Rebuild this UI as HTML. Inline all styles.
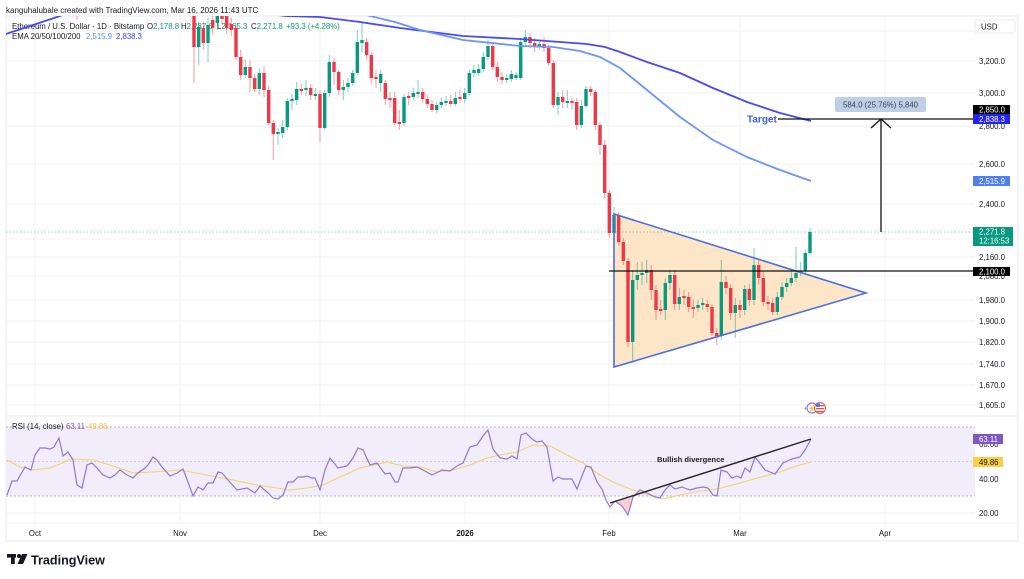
<!DOCTYPE html>
<html><head><meta charset="utf-8"><style>
html,body{margin:0;padding:0;background:#fff;}
body{width:1024px;height:579px;overflow:hidden;}
svg{display:block;font-family:"Liberation Sans",Arial,sans-serif;}
.g{fill:#089981}.r{fill:#f23645}
.gw{stroke:#089981;stroke-opacity:.5;stroke-width:1}
.rw{stroke:#f23645;stroke-opacity:.5;stroke-width:1}
.grid{stroke:#f0f2f7;stroke-width:1}
.ax{font-size:7.8px;fill:#131722}
</style></head><body>
<svg width="1024" height="579" viewBox="0 0 1024 579" xmlns="http://www.w3.org/2000/svg">
<defs>
<clipPath id="mp"><rect x="6" y="16" width="969" height="400"/></clipPath>
<clipPath id="rp"><rect x="6" y="416" width="969" height="107"/></clipPath>
</defs>
<rect width="1024" height="579" fill="#fff"/>
<text x="6" y="13" font-size="8px" fill="#131722">kanguhalubale created with TradingView.com, Mar 16, 2026 11:43 UTC</text>
<!-- frame -->
<rect x="6" y="16" width="1012" height="525" fill="none" stroke="#e6e9f0" stroke-width="1"/>
<line x1="6" y1="416" x2="1018" y2="416" stroke="#e6e9f0"/>
<!-- vertical grid -->
<g class="grid">
<line x1="35" y1="16" x2="35" y2="523"/><line x1="180" y1="16" x2="180" y2="523"/><line x1="320" y1="16" x2="320" y2="523"/><line x1="465" y1="16" x2="465" y2="523"/><line x1="609" y1="16" x2="609" y2="523"/><line x1="740" y1="16" x2="740" y2="523"/><line x1="885" y1="16" x2="885" y2="523"/>
<line x1="6" y1="31" x2="975" y2="31"/><line x1="6" y1="61" x2="975" y2="61"/><line x1="6" y1="93" x2="975" y2="93"/><line x1="6" y1="126" x2="975" y2="126"/><line x1="6" y1="164" x2="975" y2="164"/><line x1="6" y1="204" x2="975" y2="204"/><line x1="6" y1="239" x2="975" y2="239"/><line x1="6" y1="257" x2="975" y2="257"/><line x1="6" y1="276" x2="975" y2="276"/><line x1="6" y1="300" x2="975" y2="300"/><line x1="6" y1="321" x2="975" y2="321"/><line x1="6" y1="342" x2="975" y2="342"/><line x1="6" y1="364" x2="975" y2="364"/><line x1="6" y1="385" x2="975" y2="385"/><line x1="6" y1="405" x2="975" y2="405"/>
<line x1="6" y1="444" x2="975" y2="444"/><line x1="6" y1="478" x2="975" y2="478"/><line x1="6" y1="513" x2="975" y2="513"/>
</g>
<line x1="6" y1="523" x2="1018" y2="523" stroke="#f0f2f7"/>

<!-- legend -->
<text y="29" font-size="7.8px" fill="#131722"><tspan x="12">Ethereum / U.S. Dollar · 1D · Bitstamp</tspan><tspan x="147">O</tspan><tspan fill="#089981">2,178.8</tspan><tspan x="181">H</tspan><tspan fill="#089981">2,287.6</tspan><tspan x="217">L</tspan><tspan fill="#089981">2,165.3</tspan><tspan x="251">C</tspan><tspan fill="#089981">2,271.8</tspan><tspan x="286" fill="#089981">+93.3 (+4.28%)</tspan></text>
<text y="39" font-size="7.8px" fill="#131722"><tspan x="12">EMA 20/50/100/200</tspan><tspan x="86" fill="#5b8ff9">2,515.9</tspan><tspan x="116" fill="#3c3cf0">2,838.3</tspan></text>

<!-- triangle fill -->
<polygon points="614,214 614,367 866,293" fill="#fde5c8"/>

<g clip-path="url(#mp)">
<line x1="6" y1="232" x2="975" y2="232" stroke="#089981" stroke-opacity=".45" stroke-dasharray="1.5,2"/>
<line x1="77" y1="16" x2="77" y2="20" class="rw"/>
<g>
<line class="rw" x1="194" y1="16" x2="194" y2="83"/><line class="gw" x1="198.7" y1="22" x2="198.7" y2="65"/><line class="rw" x1="203.3" y1="22" x2="203.3" y2="50"/><line class="gw" x1="208" y1="18" x2="208" y2="62"/><line class="rw" x1="212.7" y1="16" x2="212.7" y2="35"/><line class="gw" x1="217.3" y1="16" x2="217.3" y2="30"/><line class="rw" x1="222" y1="12" x2="222" y2="24"/><line class="rw" x1="226.7" y1="12" x2="226.7" y2="34"/><line class="rw" x1="231.3" y1="18" x2="231.3" y2="36"/><line class="rw" x1="236" y1="24" x2="236" y2="60"/><line class="rw" x1="240.7" y1="50" x2="240.7" y2="80"/><line class="gw" x1="245.3" y1="60" x2="245.3" y2="78"/><line class="rw" x1="250" y1="60" x2="250" y2="92"/><line class="rw" x1="254.7" y1="74" x2="254.7" y2="92"/><line class="gw" x1="259.3" y1="68" x2="259.3" y2="95"/><line class="rw" x1="264" y1="66" x2="264" y2="97"/><line class="rw" x1="268.7" y1="86" x2="268.7" y2="125"/><line class="rw" x1="273.3" y1="120" x2="273.3" y2="160"/><line class="gw" x1="278" y1="128" x2="278" y2="145"/><line class="gw" x1="282.7" y1="120" x2="282.7" y2="138"/><line class="gw" x1="287.3" y1="98" x2="287.3" y2="130"/><line class="gw" x1="292" y1="94" x2="292" y2="110"/><line class="gw" x1="296.7" y1="82" x2="296.7" y2="105"/><line class="rw" x1="301.3" y1="84" x2="301.3" y2="95"/><line class="gw" x1="306" y1="80" x2="306" y2="96"/><line class="rw" x1="310.7" y1="84" x2="310.7" y2="100"/><line class="gw" x1="315.3" y1="88" x2="315.3" y2="100"/><line class="rw" x1="320" y1="90" x2="320" y2="142"/><line class="gw" x1="324.7" y1="90" x2="324.7" y2="130"/><line class="gw" x1="329.3" y1="55" x2="329.3" y2="97"/><line class="rw" x1="334" y1="58" x2="334" y2="85"/><line class="rw" x1="338.7" y1="70" x2="338.7" y2="95"/><line class="gw" x1="343.3" y1="80" x2="343.3" y2="100"/><line class="gw" x1="348" y1="78" x2="348" y2="92"/><line class="gw" x1="352.7" y1="70" x2="352.7" y2="86"/><line class="gw" x1="357.3" y1="30" x2="357.3" y2="75"/><line class="gw" x1="362" y1="23" x2="362" y2="52"/><line class="rw" x1="366.7" y1="38" x2="366.7" y2="60"/><line class="rw" x1="371.3" y1="52" x2="371.3" y2="84"/><line class="rw" x1="376" y1="70" x2="376" y2="88"/><line class="gw" x1="380.7" y1="70" x2="380.7" y2="92"/><line class="rw" x1="385.3" y1="80" x2="385.3" y2="105"/><line class="rw" x1="390" y1="92" x2="390" y2="108"/><line class="rw" x1="394.7" y1="92" x2="394.7" y2="125"/><line class="rw" x1="399.3" y1="110" x2="399.3" y2="130"/><line class="gw" x1="404" y1="94" x2="404" y2="126"/><line class="rw" x1="408.7" y1="92" x2="408.7" y2="105"/><line class="gw" x1="413.3" y1="88" x2="413.3" y2="100"/><line class="gw" x1="418" y1="80" x2="418" y2="98"/><line class="rw" x1="422.7" y1="88" x2="422.7" y2="103"/><line class="rw" x1="427.3" y1="95" x2="427.3" y2="108"/><line class="rw" x1="432" y1="100" x2="432" y2="112"/><line class="gw" x1="436.7" y1="102" x2="436.7" y2="113"/><line class="gw" x1="441.3" y1="98" x2="441.3" y2="108"/><line class="gw" x1="446" y1="96" x2="446" y2="106"/><line class="rw" x1="450.7" y1="95" x2="450.7" y2="107"/><line class="gw" x1="455.3" y1="92" x2="455.3" y2="106"/><line class="rw" x1="460" y1="90" x2="460" y2="103"/><line class="gw" x1="464.7" y1="88" x2="464.7" y2="103"/><line class="gw" x1="469.3" y1="70" x2="469.3" y2="95"/><line class="gw" x1="474" y1="65" x2="474" y2="77"/><line class="gw" x1="478.7" y1="64" x2="478.7" y2="76"/><line class="gw" x1="483.3" y1="52" x2="483.3" y2="72"/><line class="gw" x1="488" y1="40" x2="488" y2="60"/><line class="rw" x1="492.7" y1="44" x2="492.7" y2="70"/><line class="rw" x1="497.3" y1="62" x2="497.3" y2="82"/><line class="rw" x1="502" y1="72" x2="502" y2="84"/><line class="gw" x1="506.7" y1="74" x2="506.7" y2="83"/><line class="gw" x1="511.3" y1="70" x2="511.3" y2="82"/><line class="gw" x1="516" y1="72" x2="516" y2="80"/><line class="gw" x1="520.7" y1="38" x2="520.7" y2="80"/><line class="gw" x1="525.3" y1="30" x2="525.3" y2="47"/><line class="rw" x1="530" y1="33" x2="530" y2="48"/><line class="rw" x1="534.7" y1="38" x2="534.7" y2="52"/><line class="gw" x1="539.3" y1="40" x2="539.3" y2="50"/><line class="rw" x1="544" y1="37" x2="544" y2="52"/><line class="rw" x1="548.7" y1="45" x2="548.7" y2="66"/><line class="rw" x1="553.3" y1="60" x2="553.3" y2="108"/><line class="gw" x1="558" y1="92" x2="558" y2="115"/><line class="rw" x1="562.7" y1="90" x2="562.7" y2="108"/><line class="gw" x1="567.3" y1="90" x2="567.3" y2="108"/><line class="rw" x1="572" y1="98" x2="572" y2="110"/><line class="rw" x1="576.7" y1="98" x2="576.7" y2="130"/><line class="gw" x1="581.3" y1="100" x2="581.3" y2="128"/><line class="gw" x1="586" y1="86" x2="586" y2="108"/><line class="rw" x1="590.7" y1="86" x2="590.7" y2="96"/><line class="rw" x1="595.3" y1="90" x2="595.3" y2="130"/><line class="rw" x1="600" y1="122" x2="600" y2="155"/><line class="rw" x1="604.7" y1="140" x2="604.7" y2="198"/><line class="rw" x1="609.3" y1="190" x2="609.3" y2="238"/><line class="gw" x1="614" y1="207" x2="614" y2="236"/><line class="rw" x1="618.7" y1="212" x2="618.7" y2="246"/><line class="rw" x1="623.3" y1="238" x2="623.3" y2="265"/><line class="rw" x1="628" y1="258" x2="628" y2="347"/><line class="gw" x1="632.7" y1="270" x2="632.7" y2="363"/><line class="gw" x1="637.3" y1="262" x2="637.3" y2="290"/><line class="gw" x1="642" y1="262" x2="642" y2="285"/><line class="gw" x1="646.7" y1="260" x2="646.7" y2="283"/><line class="rw" x1="651.3" y1="265" x2="651.3" y2="300"/><line class="rw" x1="656" y1="285" x2="656" y2="320"/><line class="rw" x1="660.7" y1="300" x2="660.7" y2="315"/><line class="gw" x1="665.3" y1="278" x2="665.3" y2="320"/><line class="gw" x1="670" y1="270" x2="670" y2="290"/><line class="rw" x1="674.7" y1="270" x2="674.7" y2="310"/><line class="gw" x1="679.3" y1="288" x2="679.3" y2="310"/><line class="rw" x1="684" y1="290" x2="684" y2="305"/><line class="rw" x1="688.7" y1="292" x2="688.7" y2="312"/><line class="rw" x1="693.3" y1="300" x2="693.3" y2="318"/><line class="gw" x1="698" y1="300" x2="698" y2="312"/><line class="gw" x1="702.7" y1="298" x2="702.7" y2="310"/><line class="rw" x1="707.3" y1="300" x2="707.3" y2="312"/><line class="rw" x1="712" y1="304" x2="712" y2="336"/><line class="rw" x1="716.7" y1="328" x2="716.7" y2="345"/><line class="gw" x1="721.3" y1="260" x2="721.3" y2="340"/><line class="rw" x1="726" y1="276" x2="726" y2="294"/><line class="rw" x1="730.7" y1="284" x2="730.7" y2="320"/><line class="gw" x1="735.3" y1="298" x2="735.3" y2="338"/><line class="rw" x1="740" y1="300" x2="740" y2="318"/><line class="gw" x1="744.7" y1="285" x2="744.7" y2="315"/><line class="rw" x1="749.3" y1="284" x2="749.3" y2="306"/><line class="gw" x1="754" y1="248" x2="754" y2="305"/><line class="rw" x1="758.7" y1="260" x2="758.7" y2="285"/><line class="rw" x1="763.3" y1="272" x2="763.3" y2="306"/><line class="rw" x1="768" y1="296" x2="768" y2="310"/><line class="rw" x1="772.7" y1="298" x2="772.7" y2="315"/><line class="gw" x1="777.3" y1="292" x2="777.3" y2="315"/><line class="gw" x1="782" y1="282" x2="782" y2="300"/><line class="gw" x1="786.7" y1="278" x2="786.7" y2="292"/><line class="gw" x1="791.3" y1="272" x2="791.3" y2="286"/><line class="gw" x1="796" y1="247" x2="796" y2="282"/><line class="gw" x1="800.7" y1="262" x2="800.7" y2="276"/><line class="gw" x1="805.3" y1="250" x2="805.3" y2="273"/><line class="gw" x1="810" y1="228" x2="810" y2="255"/>
</g>
<g>
<rect class="r" x="192.3" y="14" width="3.4" height="33"/><rect class="g" x="197" y="27" width="3.4" height="20"/><rect class="r" x="201.6" y="28" width="3.4" height="15"/><rect class="g" x="206.3" y="25" width="3.4" height="18"/><rect class="r" x="211" y="20" width="3.4" height="8"/><rect class="g" x="215.6" y="14" width="3.4" height="9"/><rect class="r" x="220.3" y="14" width="3.4" height="5"/><rect class="r" x="225" y="14" width="3.4" height="14"/><rect class="r" x="229.6" y="24" width="3.4" height="6"/><rect class="r" x="234.3" y="28" width="3.4" height="29"/><rect class="r" x="239" y="57" width="3.4" height="18"/><rect class="g" x="243.6" y="67" width="3.4" height="8"/><rect class="r" x="248.3" y="67" width="3.4" height="11"/><rect class="r" x="253" y="78" width="3.4" height="11"/><rect class="g" x="257.6" y="73" width="3.4" height="16"/><rect class="r" x="262.3" y="73" width="3.4" height="17"/><rect class="r" x="267" y="90" width="3.4" height="33"/><rect class="r" x="271.6" y="123" width="3.4" height="11"/><rect class="g" x="276.3" y="132" width="3.4" height="2"/><rect class="g" x="281" y="127" width="3.4" height="6"/><rect class="g" x="285.6" y="101" width="3.4" height="26"/><rect class="g" x="290.3" y="99" width="3.4" height="2"/><rect class="g" x="295" y="89" width="3.4" height="11"/><rect class="r" x="299.6" y="89" width="3.4" height="2"/><rect class="g" x="304.3" y="88" width="3.4" height="2"/><rect class="r" x="309" y="88" width="3.4" height="7"/><rect class="g" x="313.6" y="94" width="3.4" height="2"/><rect class="r" x="318.3" y="94" width="3.4" height="34"/><rect class="g" x="323" y="93" width="3.4" height="35"/><rect class="g" x="327.6" y="62" width="3.4" height="31"/><rect class="r" x="332.3" y="62" width="3.4" height="10"/><rect class="r" x="337" y="72" width="3.4" height="18"/><rect class="g" x="341.6" y="87" width="3.4" height="3"/><rect class="g" x="346.3" y="83" width="3.4" height="4"/><rect class="g" x="351" y="73" width="3.4" height="10"/><rect class="g" x="355.6" y="42" width="3.4" height="31"/><rect class="g" x="360.3" y="40" width="3.4" height="3"/><rect class="r" x="365" y="42" width="3.4" height="13"/><rect class="r" x="369.6" y="55" width="3.4" height="23"/><rect class="r" x="374.3" y="77" width="3.4" height="2"/><rect class="g" x="379" y="74" width="3.4" height="9"/><rect class="r" x="383.6" y="83" width="3.4" height="16"/><rect class="r" x="388.3" y="98" width="3.4" height="2"/><rect class="r" x="393" y="98" width="3.4" height="25"/><rect class="r" x="397.6" y="122" width="3.4" height="2"/><rect class="g" x="402.3" y="97" width="3.4" height="26"/><rect class="r" x="407" y="96" width="3.4" height="2"/><rect class="g" x="411.6" y="93" width="3.4" height="4"/><rect class="g" x="416.3" y="92" width="3.4" height="2"/><rect class="r" x="421" y="92" width="3.4" height="7"/><rect class="r" x="425.6" y="99" width="3.4" height="5"/><rect class="r" x="430.3" y="104" width="3.4" height="6"/><rect class="g" x="435" y="105" width="3.4" height="5"/><rect class="g" x="439.6" y="102" width="3.4" height="3"/><rect class="g" x="444.3" y="101" width="3.4" height="2"/><rect class="r" x="449" y="101" width="3.4" height="3"/><rect class="g" x="453.6" y="98" width="3.4" height="6"/><rect class="r" x="458.3" y="97" width="3.4" height="2"/><rect class="g" x="463" y="93" width="3.4" height="6"/><rect class="g" x="467.6" y="73" width="3.4" height="20"/><rect class="g" x="472.3" y="70" width="3.4" height="3"/><rect class="g" x="477" y="69" width="3.4" height="4"/><rect class="g" x="481.6" y="57" width="3.4" height="12"/><rect class="g" x="486.3" y="46" width="3.4" height="11"/><rect class="r" x="491" y="46" width="3.4" height="21"/><rect class="r" x="495.6" y="67" width="3.4" height="10"/><rect class="r" x="500.3" y="77" width="3.4" height="3"/><rect class="g" x="505" y="78" width="3.4" height="2"/><rect class="g" x="509.6" y="74" width="3.4" height="5"/><rect class="g" x="514.3" y="75" width="3.4" height="3"/><rect class="g" x="519" y="42" width="3.4" height="36"/><rect class="g" x="523.6" y="37" width="3.4" height="5"/><rect class="r" x="528.3" y="37" width="3.4" height="6"/><rect class="r" x="533" y="43" width="3.4" height="3"/><rect class="g" x="537.6" y="44" width="3.4" height="2"/><rect class="r" x="542.3" y="44" width="3.4" height="4"/><rect class="r" x="547" y="48" width="3.4" height="15"/><rect class="r" x="551.6" y="63" width="3.4" height="42"/><rect class="g" x="556.3" y="97" width="3.4" height="8"/><rect class="r" x="561" y="97" width="3.4" height="5"/><rect class="g" x="565.6" y="101" width="3.4" height="2"/><rect class="r" x="570.3" y="101" width="3.4" height="2"/><rect class="r" x="575" y="102" width="3.4" height="23"/><rect class="g" x="579.6" y="106" width="3.4" height="19"/><rect class="g" x="584.3" y="89" width="3.4" height="17"/><rect class="r" x="589" y="89" width="3.4" height="3"/><rect class="r" x="593.6" y="92" width="3.4" height="33"/><rect class="r" x="598.3" y="125" width="3.4" height="20"/><rect class="r" x="603" y="145" width="3.4" height="48"/><rect class="r" x="607.6" y="193" width="3.4" height="40"/><rect class="g" x="612.3" y="215" width="3.4" height="18"/><rect class="r" x="617" y="215" width="3.4" height="27"/><rect class="r" x="621.6" y="242" width="3.4" height="19"/><rect class="r" x="626.3" y="261" width="3.4" height="81"/><rect class="g" x="631" y="280" width="3.4" height="62"/><rect class="g" x="635.6" y="275" width="3.4" height="5"/><rect class="g" x="640.3" y="273" width="3.4" height="2"/><rect class="g" x="645" y="270" width="3.4" height="3"/><rect class="r" x="649.6" y="270" width="3.4" height="20"/><rect class="r" x="654.3" y="290" width="3.4" height="20"/><rect class="r" x="659" y="309" width="3.4" height="2"/><rect class="g" x="663.6" y="283" width="3.4" height="27"/><rect class="g" x="668.3" y="275" width="3.4" height="8"/><rect class="r" x="673" y="275" width="3.4" height="29"/><rect class="g" x="677.6" y="297" width="3.4" height="7"/><rect class="r" x="682.3" y="296" width="3.4" height="2"/><rect class="r" x="687" y="297" width="3.4" height="10"/><rect class="r" x="691.6" y="307" width="3.4" height="2"/><rect class="g" x="696.3" y="305" width="3.4" height="3"/><rect class="g" x="701" y="303" width="3.4" height="2"/><rect class="r" x="705.6" y="304" width="3.4" height="3"/><rect class="r" x="710.3" y="307" width="3.4" height="26"/><rect class="r" x="715" y="333" width="3.4" height="3"/><rect class="g" x="719.6" y="282" width="3.4" height="54"/><rect class="r" x="724.3" y="282" width="3.4" height="6"/><rect class="r" x="729" y="288" width="3.4" height="25"/><rect class="g" x="733.6" y="305" width="3.4" height="8"/><rect class="r" x="738.3" y="305" width="3.4" height="5"/><rect class="g" x="743" y="289" width="3.4" height="21"/><rect class="r" x="747.6" y="289" width="3.4" height="11"/><rect class="g" x="752.3" y="265" width="3.4" height="35"/><rect class="r" x="757" y="265" width="3.4" height="13"/><rect class="r" x="761.6" y="278" width="3.4" height="24"/><rect class="r" x="766.3" y="302" width="3.4" height="2"/><rect class="r" x="771" y="303" width="3.4" height="9"/><rect class="g" x="775.6" y="297" width="3.4" height="15"/><rect class="g" x="780.3" y="287" width="3.4" height="10"/><rect class="g" x="785" y="283" width="3.4" height="4"/><rect class="g" x="789.6" y="278" width="3.4" height="5"/><rect class="g" x="794.3" y="273" width="3.4" height="5"/><rect class="g" x="799" y="271" width="3.4" height="2"/><rect class="g" x="803.6" y="253" width="3.4" height="18"/><rect class="g" x="808.3" y="232" width="3.4" height="21"/>
</g>
<polyline fill="none" stroke="#4a4af0" stroke-width="1.8" points="6,34 30,26 60,16 70,12"/>
<polyline fill="none" stroke="#4a4af0" stroke-width="1.8" points="270,14 285,16 320,17 360,22 400,28 463,36 520,39 560,42 587,44 605,47 620,52 647,62 680,73 713,88 747,102 780,113 811,121"/>
<polyline fill="none" stroke="#6b95f7" stroke-width="1.8" points="355,12 370,16 395,22 420,30 463,40 520,46 553,47 580,51 600,57 620,68 647,90 680,117 713,140 747,157 780,170 811,181"/>
</g>

<polygon points="614,214 614,367 866,293" fill="none" stroke="#4a6fe0" stroke-width="1.6"/>
<line x1="609" y1="271" x2="975" y2="271" stroke="#111" stroke-width="1.3"/>
<line x1="778" y1="119" x2="975" y2="119" stroke="#111" stroke-width="1.3"/>
<text x="747" y="122.5" font-size="10px" font-weight="bold" fill="#3d5fd6">Target</text>
<line x1="881" y1="119.5" x2="881" y2="232" stroke="#111" stroke-width="1.3"/>
<polyline points="871,128 881,119 891,128" fill="none" stroke="#111" stroke-width="1.3"/>
<rect x="835" y="97" width="91" height="15" rx="2" fill="#bfcfe6"/>
<text x="880.5" y="107.3" font-size="7.8px" fill="#3a4656" text-anchor="middle">584.0 (25.76%) 5,840</text>

<circle cx="812" cy="408" r="5" fill="#fff" stroke="#a070e0" stroke-width="1.2"/>
<text x="812" y="410.8" font-size="7px" fill="#a070e0" text-anchor="middle">⚡</text>
<text x="805.5" y="410.5" font-size="7px" fill="#a070e0" text-anchor="middle">+</text>
<circle cx="820" cy="408" r="5.5" fill="#fff" stroke="#e25555" stroke-width="1"/>
<rect x="816" y="405" width="8" height="1.3" fill="#e25555"/><rect x="816" y="408" width="8" height="1.3" fill="#e25555"/><rect x="816" y="411" width="8" height="1.3" fill="#e25555"/>
<rect x="816" y="403.5" width="4" height="3.5" fill="#4a7fd8"/>

<!-- RSI pane -->
<rect x="6" y="427" width="969" height="69" fill="#f1edfa"/>
<g stroke="#a49bb8" stroke-dasharray="2,2" stroke-width="0.8">
<line x1="6" y1="427" x2="975" y2="427"/><line x1="6" y1="496" x2="975" y2="496"/>
</g>
<line x1="6" y1="461.5" x2="975" y2="461.5" stroke="#c9c0dd" stroke-dasharray="2,2" stroke-width="0.8"/>
<g clip-path="url(#rp)">
<polygon points="610,503 615,501 622,506 628,515 633,497 610,503" fill="#f6c4c4" fill-opacity=".8"/>
<polyline fill="none" stroke="#f5d36a" stroke-width="1.1" points="7,460 20,467 32,470 50,468 72,459 93,460 110,465 133,473 152,472 180,470 207,475 233,480 257,485 277,488 290,490 307,488 323,485 340,477 360,468 387,462 403,466 420,467 437,472 453,470 470,465 487,458 500,455 517,452 533,445 550,446 567,455 583,463 600,475 615,483 633,490 650,495 663,499 680,495 700,491 717,489 740,483 757,478 777,473 793,467 811,462"/>
<polyline fill="none" stroke="#9277d8" stroke-width="1.2" points="7,495 12,481 17,481 25,467 31,470 35,455 40,448 45,448 50,449 54,447 59,438 63,456 68,452 73,460 77,485 82,488 87,465 92,463 97,468 103,475 110,478 115,475 120,470 127,475 133,478 138,473 145,468 148,465 153,457 157,460 162,467 170,476 177,473 183,469 188,482 193,496 198,487 203,490 208,483 213,483 218,472 222,473 228,480 237,490 247,488 255,493 260,486 267,492 273,498 278,499 283,495 288,482 293,482 298,477 303,477 307,476 312,478 315,478 320,490 325,470 330,458 338,468 347,466 353,458 358,448 363,450 370,465 377,463 385,474 390,473 395,482 398,482 403,468 410,468 417,467 423,470 432,475 442,470 450,471 457,466 463,463 470,447 477,445 483,436 488,430 493,449 500,458 507,459 512,456 517,459 521,435 526,433 532,439 537,442 542,441 547,447 553,481 558,477 563,479 572,479 577,489 582,476 586,466 591,467 597,482 602,489 606,500 610,507 615,501 622,506 628,515 633,497 640,490 647,493 655,497 660,498 665,490 670,485 675,489 682,487 690,490 697,488 703,487 708,488 713,495 717,496 721,470 727,472 732,478 737,476 741,478 745,468 750,472 755,457 759,462 765,470 770,472 775,474 783,463 792,459 800,457 805,450 811,439"/>
</g>
<line x1="610" y1="503" x2="811" y2="439" stroke="#222" stroke-width="1.4"/>
<text x="657" y="462" font-size="7.6px" font-weight="bold" fill="#222">Bullish divergence</text>
<text y="429" font-size="7.8px" fill="#131722"><tspan x="12">RSI (14, close)</tspan><tspan x="66" fill="#7e57c2">63.11</tspan><tspan x="88" fill="#f0c43a">49.86</tspan></text>

<!-- price axis -->
<rect x="975" y="20" width="40" height="13" rx="2" fill="#fff" stroke="#e6e9f0"/>
<text class="ax" x="981" y="29.5">USD</text>
<g class="ax">
<text x="979" y="63.8">3,200.0</text>
<text x="979" y="95.8">3,000.0</text>
<text x="979" y="128.8">2,800.0</text>
<text x="979" y="166.8">2,600.0</text>
<text x="979" y="206.8">2,400.0</text>
<text x="979" y="259.8">2,160.0</text>
<text x="979" y="278.8">2,080.0</text>
<text x="979" y="302.8">1,980.0</text>
<text x="979" y="323.8">1,900.0</text>
<text x="979" y="344.8">1,820.0</text>
<text x="979" y="366.8">1,740.0</text>
<text x="979" y="387.8">1,670.0</text>
<text x="979" y="407.8">1,605.0</text>
<text x="979" y="446.8">60.00</text>
<text x="979" y="481.8">40.00</text>
<text x="979" y="515.8">20.00</text>
</g>
<rect x="973" y="105" width="37" height="9" fill="#000"/>
<text class="ax" x="979" y="112.3" style="fill:#fff">2,850.0</text>
<rect x="973" y="114" width="37" height="10" fill="#2424f2"/>
<text class="ax" x="979" y="121.8" style="fill:#fff">2,838.3</text>
<rect x="973" y="176" width="37" height="10" fill="#4f7ef6"/>
<text class="ax" x="979" y="183.8" style="fill:#fff">2,515.9</text>
<rect x="973" y="227" width="40" height="19" fill="#089981"/>
<text class="ax" x="979" y="234.6" style="fill:#fff">2,271.8</text>
<text class="ax" x="979" y="243.4" style="fill:#fff">12:16:53</text>
<rect x="973" y="267" width="37" height="9" fill="#000"/>
<text class="ax" x="979" y="274.3" style="fill:#fff">2,100.0</text>
<rect x="973" y="434" width="30" height="10" fill="#7e57c2"/>
<text class="ax" x="979" y="441.8" style="fill:#fff">63.11</text>
<rect x="973" y="457" width="30" height="10" fill="#f7d046"/>
<text class="ax" x="979" y="464.8">49.86</text>

<g class="ax" text-anchor="middle">
<text x="35" y="536">Oct</text>
<text x="180" y="536">Nov</text>
<text x="320" y="536">Dec</text>
<text x="465" y="536" font-weight="bold">2026</text>
<text x="609" y="536">Feb</text>
<text x="740" y="536">Mar</text>
<text x="885" y="536">Apr</text>
</g>

<g fill="#131722">
<rect x="7" y="554" width="9" height="3.6"/>
<rect x="11" y="554" width="3.8" height="10"/>
<circle cx="19" cy="556" r="2"/>
<polygon points="22,554 27.5,554 23,564 17.5,564"/>
</g>
<text x="31" y="564.5" font-size="12.6px" font-weight="bold" fill="#131722">TradingView</text>
</svg>
</body></html>
